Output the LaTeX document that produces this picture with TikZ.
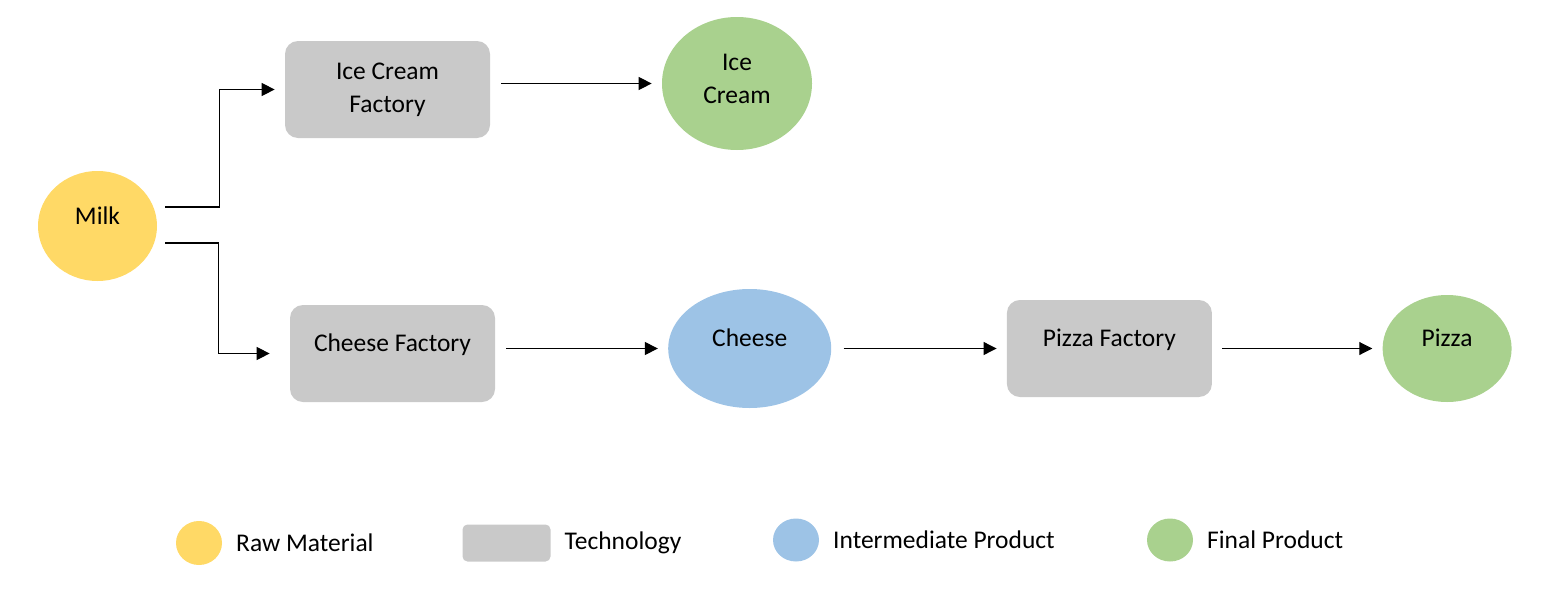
\documentclass[tikz,border=0pt]{standalone}
\usepackage{fontspec}
\setmainfont{Carlito}
\usepackage{tikz}
\usetikzlibrary{positioning,shapes.geometric,arrows.meta}

\definecolor{rawcol}{HTML}{FFD966}
\definecolor{techcol}{HTML}{C9C9C9}
\definecolor{midcol}{HTML}{9DC3E6}
\definecolor{fincol}{HTML}{A9D18E}

\begin{document}
\begin{tikzpicture}[node distance={3.45cm},
    every node/.style = {font=\fontsize{14.5}{18.7}\selectfont},
    lift/.style = {text height=0.35cm, text depth=0.43cm},
    raw/.style = {ellipse, fill=rawcol, inner sep=0pt},
    tech/.style = {rectangle, rounded corners=0.26cm, fill=techcol, inner sep=0pt, minimum width=4.1cm, minimum height=1.94cm},
    mid/.style = {ellipse, fill=midcol, inner sep=0pt},
    fin/.style = {ellipse, fill=fincol, inner sep=0pt},
    flow/.style = {-{Triangle[length=2.6mm,width=2.6mm]}, line width=0.6pt, shorten >=2mm},
    keytext/.style = {inner sep=0pt, anchor=west}]
    \useasboundingbox (0,0) rectangle (30.88,-12.12);

    \node[raw, lift, minimum width=2.38cm, minimum height=2.2cm] (milk) at (1.95,-4.52) {Milk};
    \node[tech, align=center] (icf) at (7.75,-1.79) {Ice Cream\\Factory};
    \node[fin, align=center, text depth=0.2cm, minimum width=3cm, minimum height=2.66cm] (ic) at (14.74,-1.67) {Ice\\Cream};
    \node[tech, lift] (cf) at (7.85,-7.07) {Cheese Factory};
    \node[mid, lift, minimum width=3.26cm, minimum height=2.38cm] (cheese) [right =of cf, yshift=0.1cm] {Cheese};
    \node[tech, lift] (pf) [right =3.5cm of cheese] {Pizza Factory};
    \node[fin, lift, minimum width=2.58cm, minimum height=2.14cm] (pizza) [right =3.4cm of pf] {Pizza};

    \draw[flow] ([xshift=0.16cm,yshift=0.38cm]milk.east) -- ++(1.08,0) |- (icf.west);
    \draw[flow, shorten >=4mm] ([xshift=0.16cm,yshift=-0.34cm]milk.east) -- ++(1.06,0) |- (cf.west);
    \draw[flow, shorten <=2.2mm] (icf.east |- ic) -- (ic);
    \draw[flow, shorten <=2.2mm] (cf.east |- cheese) -- (cheese);
    \draw[flow, shorten <=2.4mm] (cheese) -- (pf);
    \draw[flow, shorten <=2mm] (pf) -- (pizza);

    % legend
    \node[raw, minimum width=0.92cm, minimum height=0.88cm] (keyraw) at (3.98,-10.86) {};
    \node[keytext] (keyrawtxt) [right =0.27cm of keyraw] {Raw Material};
    \node[rectangle, rounded corners=0.1cm, fill=techcol, minimum width=1.76cm, minimum height=0.74cm] (keytech) at (10.13,-10.86) {};
    \node[keytext] (keytechtxt) [right =0.27cm of keytech] {Technology};
    \node[mid, minimum width=0.92cm, minimum height=0.86cm] (keymid) at (15.92,-10.8) {};
    \node[keytext] (keymidtxt) [right =0.27cm of keymid] {Intermediate Product};
    \node[fin, minimum width=0.92cm, minimum height=0.86cm] (keyfin) at (23.4,-10.8) {};
    \node[keytext] (keyfintxt) [right =0.27cm of keyfin] {Final Product};
\end{tikzpicture}
\end{document}
